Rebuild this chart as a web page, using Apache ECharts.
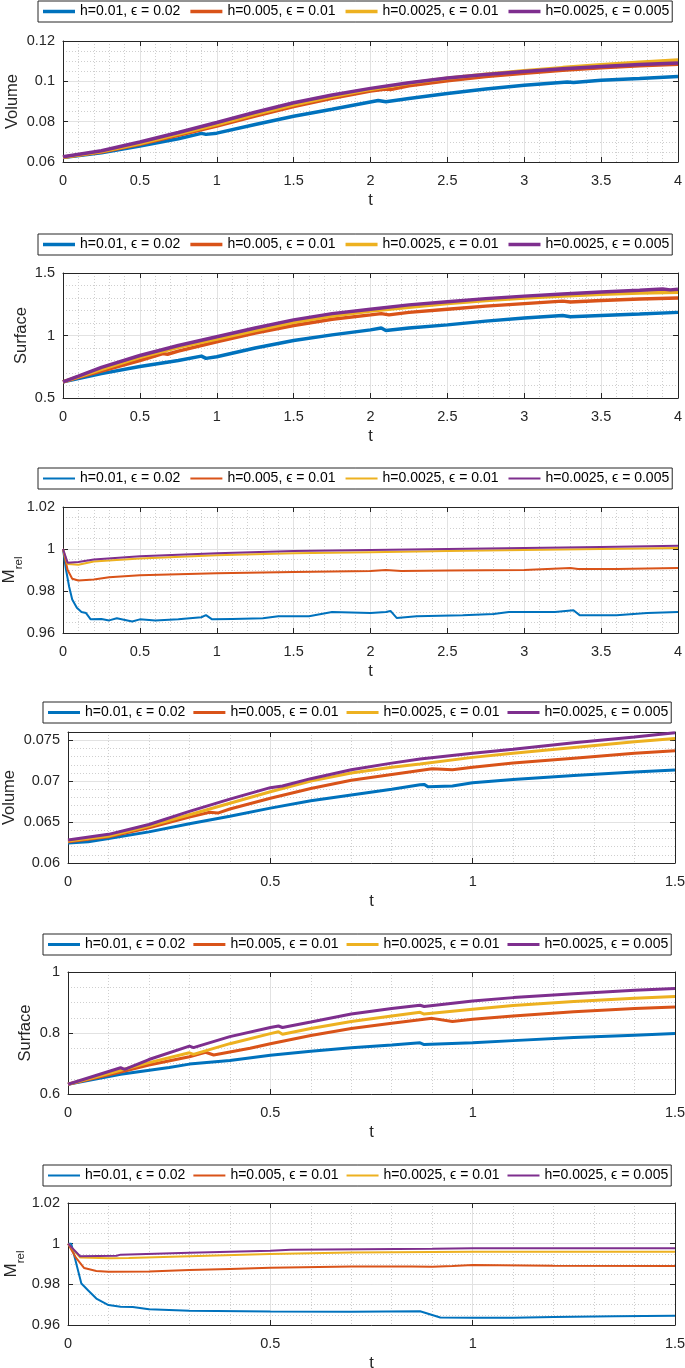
<!DOCTYPE html>
<html><head><meta charset="utf-8">
<script src="https://cdn.jsdelivr.net/npm/echarts@6/dist/echarts.min.js"></script>
<style>html,body{margin:0;padding:0;background:#fff}#c{width:685px;height:1368px}</style>
</head><body><div id="c"></div>
<script>
// ---------- data (t, value) ----------
const legendNames = ['h=0.01, \u03f5 = 0.02', 'h=0.005, \u03f5 = 0.01', 'h=0.0025, \u03f5 = 0.01', 'h=0.0025, \u03f5 = 0.005'];
const lineColors = ['#0072BD', '#D95319', '#EDB120', '#7E2F8E'];

// Panel 1: Volume, t in [0,4]
const volA_blue = [[0,.0622],[.25,.0646],[.5,.0679],[.75,.0715],[.9,.0742],[.93,.0737],[1,.0743],[1.25,.0786],[1.5,.0827],[1.75,.0862],[2.05,.0905],[2.1,.0899],[2.25,.0915],[2.5,.0940],[2.75,.0962],[3,.0980],[3.28,.0997],[3.32,.0994],[3.5,.1005],[3.75,.1014],[4,.1024]];
const volA_orange = [[0,.0624],[.25,.0650],[.5,.0688],[.75,.0733],[1,.0778],[1.25,.0828],[1.5,.0875],[1.75,.0916],[2,.0952],[2.1,.0962],[2.13,.0959],[2.25,.0978],[2.5,.1003],[2.75,.1024],[3,.1040],[3.25,.1055],[3.5,.1067],[3.75,.1077],[4,.1085]];
const volA_yellow = [[0,.0624],[.25,.0652],[.5,.0692],[.75,.0738],[1,.0786],[1.25,.0837],[1.5,.0884],[1.75,.0925],[2,.0960],[2.25,.0990],[2.5,.1015],[2.75,.1035],[3,.1052],[3.25,.1068],[3.5,.1082],[3.75,.1095],[4,.1106]];
const volA_purple = [[0,.0626],[.25,.0656],[.5,.0699],[.75,.0746],[1,.0796],[1.25,.0847],[1.5,.0894],[1.75,.0932],[2,.0965],[2.25,.0993],[2.5,.1016],[2.75,.1034],[3,.1049],[3.25,.1062],[3.5,.1074],[3.75,.1083],[4,.1091]];

// Panel 2: Surface, t in [0,4]
const surfA_blue = [[0,.629],[.1,.655],[.25,.695],[.5,.752],[.75,.800],[.9,.835],[.93,.817],[1,.830],[1.25,.900],[1.5,.960],[1.75,1.005],[2,1.045],[2.07,1.060],[2.1,1.040],[2.25,1.060],[2.5,1.085],[2.75,1.115],[3,1.140],[3.25,1.160],[3.3,1.150],[3.5,1.160],[3.75,1.172],[4,1.185]];
const surfA_orange = [[0,.629],[.1,.665],[.25,.715],[.5,.800],[.65,.855],[.68,.850],[.75,.875],[1,.950],[1.25,1.020],[1.5,1.080],[1.75,1.130],[2,1.165],[2.07,1.175],[2.12,1.165],[2.25,1.185],[2.5,1.210],[2.75,1.235],[3,1.255],[3.25,1.275],[3.3,1.268],[3.5,1.280],[3.75,1.292],[4,1.300]];
const surfA_yellow = [[0,.629],[.1,.670],[.25,.730],[.5,.825],[.75,.905],[1,.972],[1.25,1.040],[1.5,1.105],[1.75,1.155],[2,1.195],[2.25,1.225],[2.5,1.255],[2.75,1.280],[3,1.300],[3.25,1.315],[3.5,1.330],[3.75,1.340],[4,1.345]];
const surfA_purple = [[0,.629],[.1,.675],[.25,.745],[.5,.840],[.75,.920],[1,.990],[1.25,1.060],[1.5,1.125],[1.75,1.175],[2,1.210],[2.25,1.245],[2.5,1.270],[2.75,1.295],[3,1.315],[3.25,1.332],[3.5,1.348],[3.75,1.362],[3.9,1.372],[3.95,1.365],[4,1.370]];

// Panel 3: M_rel, t in [0,4]
const massA_blue = [[0,1.0],[.02,.990],[.04,.982],[.06,.976],[.09,.972],[.12,.970],[.15,.9695],[.18,.9665],[.25,.9667],[.3,.966],[.35,.967],[.45,.9655],[.5,.9665],[.6,.966],[.75,.9665],[.9,.9675],[.93,.9685],[.97,.9665],[1.1,.9667],[1.3,.967],[1.4,.968],[1.6,.968],[1.75,.970],[2,.9695],[2.1,.970],[2.13,.9705],[2.17,.9672],[2.3,.968],[2.6,.9685],[2.8,.969],[2.9,.970],[3.2,.970],[3.32,.9708],[3.36,.9685],[3.6,.9685],[3.8,.9695],[4,.970]];
const massA_orange = [[0,1.0],[.03,.990],[.06,.9858],[.1,.985],[.2,.9855],[.3,.9865],[.5,.9875],[.75,.988],[1,.9885],[1.5,.989],[2,.9895],[2.1,.990],[2.2,.9895],[2.5,.9898],[3,.990],[3.3,.991],[3.35,.9905],[3.6,.9905],[4,.991]];
const massA_yellow = [[0,1.0],[.03,.9928],[.1,.9925],[.2,.994],[.5,.9955],[1,.997],[1.5,.998],[2,.9985],[2.5,.999],[3,.9995],[3.5,1.0],[4,1.0005]];
const massA_purple = [[0,1.0],[.03,.9935],[.1,.9938],[.2,.995],[.5,.9966],[1,.998],[1.5,.999],[2,.9995],[2.5,1.0],[3,1.0005],[3.5,1.001],[4,1.0015]];

// Panel 4: Volume, t in [0,1.5]
const volB_blue = [[0,.06245],[.05,.0626],[.1,.0630],[.2,.0638],[.3,.0648],[.4,.0657],[.5,.0667],[.6,.0676],[.7,.0683],[.8,.0690],[.87,.06955],[.88,.0696],[.89,.0693],[.95,.0694],[1,.0698],[1.1,.0702],[1.25,.0707],[1.4,.0711],[1.5,.07135]];
const volB_orange = [[0,.0626],[.1,.0632],[.2,.0643],[.3,.0656],[.35,.0662],[.37,.0661],[.4,.0666],[.5,.0679],[.6,.0691],[.7,.0701],[.8,.0708],[.9,.0715],[.95,.0714],[1,.0717],[1.1,.0722],[1.25,.0728],[1.4,.0734],[1.5,.0737]];
const volB_yellow = [[0,.0627],[.1,.0633],[.2,.0645],[.3,.0659],[.4,.0673],[.5,.0687],[.6,.0700],[.7,.0710],[.8,.0717],[.87,.0721],[1,.0729],[1.1,.0734],[1.25,.0741],[1.4,.0748],[1.5,.0752]];
const volB_purple = [[0,.0628],[.1,.0635],[.15,.0641],[.2,.0647],[.3,.0663],[.4,.0678],[.5,.0692],[.53,.0694],[.6,.0703],[.7,.0714],[.8,.0722],[.87,.0727],[1,.0734],[1.1,.0739],[1.25,.0747],[1.4,.0754],[1.5,.0759]];

// Panel 5: Surface, t in [0,1.5]
const surfB_blue = [[0,.632],[.13,.665],[.25,.687],[.3,.698],[.4,.710],[.5,.727],[.6,.740],[.7,.752],[.8,.761],[.87,.768],[.88,.762],[1,.768],[1.1,.775],[1.25,.785],[1.4,.793],[1.5,.798]];
const surfB_orange = [[0,.632],[.13,.672],[.2,.695],[.3,.722],[.34,.737],[.36,.728],[.45,.750],[.5,.765],[.6,.792],[.7,.815],[.8,.832],[.9,.848],[.95,.838],[1,.845],[1.1,.856],[1.25,.870],[1.4,.880],[1.5,.885]];
const surfB_yellow = [[0,.632],[.13,.678],[.2,.703],[.3,.735],[.31,.730],[.4,.765],[.5,.798],[.52,.804],[.53,.796],[.6,.815],[.7,.838],[.8,.856],[.87,.868],[.88,.862],[1,.878],[1.1,.890],[1.25,.903],[1.4,.914],[1.5,.920]];
const surfB_purple = [[0,.632],[.13,.686],[.14,.681],[.2,.713],[.3,.757],[.31,.752],[.4,.788],[.5,.818],[.52,.823],[.53,.818],[.6,.836],[.7,.862],[.8,.880],[.87,.891],[.88,.887],[1,.905],[1.1,.916],[1.25,.929],[1.4,.940],[1.5,.946]];

// Panel 6: M_rel, t in [0,1.5]
const massB_blue = [[0,1.0],[.008,1.0],[.033,.9804],[.05,.977],[.07,.973],[.1,.9698],[.13,.969],[.16,.9688],[.2,.9678],[.3,.967],[.5,.9667],[.7,.9665],[.87,.9668],[.92,.9637],[1,.9636],[1.1,.9636],[1.2,.9639],[1.35,.9643],[1.5,.9645]];
const massB_orange = [[0,1.0],[.02,.993],[.04,.988],[.07,.9866],[.1,.9862],[.2,.9863],[.3,.987],[.4,.9876],[.5,.9881],[.7,.9888],[.85,.9888],[.9,.9886],[.95,.989],[1,.9895],[1.2,.9892],[1.5,.989]];
const massB_yellow = [[0,1.0],[.03,.9932],[.1,.9928],[.15,.9929],[.3,.9938],[.5,.9949],[.7,.9957],[1,.996],[1.5,.996]];
const massB_purple = [[0,1.0],[.03,.9938],[.12,.9941],[.13,.9946],[.3,.9955],[.5,.9965],[.55,.997],[.9,.9975],[1,.9977],[1.5,.9978]];

// ---------- layout ----------
const FONT = '"Liberation Sans", Arial, Helvetica, sans-serif';
const panels = [
  {series:[volA_blue,volA_orange,volA_yellow,volA_purple], left:63, top:41, width:615, height:121, lgTop:1, lgLeft:38, lgGap:10,
   xMax:4, xInt:0.5, xMinor:0.1, yMin:0.06, yMax:0.12, yInt:0.02, yMinor:0.005, name:'Volume', nameGap:42, lw:3.5},
  {series:[surfA_blue,surfA_orange,surfA_yellow,surfA_purple], left:63, top:273, width:615, height:125, lgTop:234, lgLeft:38, lgGap:10,
   xMax:4, xInt:0.5, xMinor:0.1, yMin:0.5, yMax:1.5, yInt:0.5, yMinor:0.1, name:'Surface', nameGap:33, lw:3.5},
  {series:[massA_blue,massA_orange,massA_yellow,massA_purple], left:63, top:507, width:615, height:126, lgTop:468, lgLeft:38, lgGap:10,
   xMax:4, xInt:0.5, xMinor:0.1, yMin:0.96, yMax:1.02, yInt:0.02, yMinor:0.005, name:'M', nameGap:38, lw:2, mrel:true},
  {series:[volB_blue,volB_orange,volB_yellow,volB_purple], left:68, top:732, width:607, height:131, lgTop:702, lgLeft:43, lgGap:8,
   xMax:1.5, xInt:0.5, xMinor:0.1, yMin:0.06, yMax:0.076, yInt:0.005, yMinor:0.001, name:'Volume', nameGap:50, lw:3, hideMax:true},
  {series:[surfB_blue,surfB_orange,surfB_yellow,surfB_purple], left:68, top:972, width:607, height:122, lgTop:934, lgLeft:43, lgGap:8,
   xMax:1.5, xInt:0.5, xMinor:0.1, yMin:0.6, yMax:1.0, yInt:0.2, yMinor:0.05, name:'Surface', nameGap:34, lw:3},
  {series:[massB_blue,massB_orange,massB_yellow,massB_purple], left:68, top:1203, width:607, height:122, lgTop:1165, lgLeft:43, lgGap:8,
   xMax:1.5, xInt:0.5, xMinor:0.1, yMin:0.96, yMax:1.02, yInt:0.02, yMinor:0.005, name:'M', nameGap:41, lw:2, mrel:true}
];

const AX = '#262626';
const grid = [], xAxis = [], yAxis = [], series = [], legend = [];
panels.forEach((p, i) => {
  grid.push({left:p.left, top:p.top, width:p.width, height:p.height, containLabel:false, outerBoundsMode:'none', show:false});
  // minor grid (x)
  xAxis.push({gridIndex:i, type:'value', min:0, max:p.xMax, interval:p.xMinor, position:'bottom',
    axisLine:{show:false}, axisTick:{show:false}, axisLabel:{show:false},
    splitLine:{show:true, lineStyle:{color:'#cfcfcf', type:[1,2], width:1}}});
  // major x
  xAxis.push({gridIndex:i, type:'value', min:0, max:p.xMax, interval:p.xInt, position:'bottom',
    name:'t', nameLocation:'middle', nameGap:30, nameMoveOverlap:false,
    nameTextStyle:{fontSize:16.5, color:AX, fontFamily:FONT},
    axisLine:{show:true, onZero:false, lineStyle:{color:AX, width:1}},
    axisTick:{show:true, inside:true, length:5, lineStyle:{color:AX}},
    axisLabel:{show:true, margin:11, fontSize:14.5, color:AX, fontFamily:FONT},
    splitLine:{show:true, lineStyle:{color:'#e2e2e2', width:1}}});
  // top box
  xAxis.push({gridIndex:i, type:'value', min:0, max:p.xMax, interval:p.xInt, position:'top',
    axisLine:{show:true, onZero:false, lineStyle:{color:AX, width:1}},
    axisTick:{show:true, inside:true, length:5, lineStyle:{color:AX}},
    axisLabel:{show:false}, splitLine:{show:false}});
  // minor y
  yAxis.push({gridIndex:i, type:'value', min:p.yMin, max:p.yMax, interval:p.yMinor, position:'left',
    axisLine:{show:false}, axisTick:{show:false}, axisLabel:{show:false},
    splitLine:{show:true, lineStyle:{color:'#cfcfcf', type:[1,2], width:1}}});
  // major y
  const nameCfg = p.mrel
    ? {name:'{m|M}{s|rel}', nameTextStyle:{color:AX, fontFamily:FONT, rich:{
        m:{fontSize:17, fontFamily:FONT, color:AX, lineHeight:24, verticalAlign:'top'},
        s:{fontSize:11.5, fontFamily:FONT, color:AX, lineHeight:24, verticalAlign:'bottom'}}}}
    : {name:p.name, nameTextStyle:{fontSize:16.5, color:AX, fontFamily:FONT}};
  yAxis.push(Object.assign({gridIndex:i, type:'value', min:p.yMin, max:p.yMax, interval:p.yInt, position:'left',
    nameLocation:'middle', nameGap:p.nameGap, nameMoveOverlap:false,
    axisLine:{show:true, onZero:false, lineStyle:{color:AX, width:1}},
    axisTick:{show:true, inside:true, length:5, lineStyle:{color:AX}},
    axisLabel:{show:true, margin:8, fontSize:14.5, color:AX, fontFamily:FONT, showMaxLabel: p.hideMax ? false : true},
    splitLine:{show:true, lineStyle:{color:'#e2e2e2', width:1}}}, nameCfg));
  // right box
  yAxis.push({gridIndex:i, type:'value', min:p.yMin, max:p.yMax, interval:p.yInt, position:'right',
    axisLine:{show:true, onZero:false, lineStyle:{color:AX, width:1}},
    axisTick:{show:true, inside:true, length:5, lineStyle:{color:AX}},
    axisLabel:{show:false}, splitLine:{show:false}});

  p.series.forEach((d, k) => {
    series.push({type:'line', name:legendNames[k], xAxisIndex:3*i+1, yAxisIndex:3*i+1, data:d,
      symbol:'none', showSymbol:false, animation:false, z:3+k,
      lineStyle:{width:p.lw, color:lineColors[k]}, itemStyle:{color:lineColors[k]}});
  });

  legend.push({top:p.lgTop, left:p.lgLeft, orient:'horizontal', data:legendNames, selectedMode:false,
    icon:'rect', itemWidth:32, itemHeight:p.lw, itemGap:p.lgGap, padding:[3,3,3,5],
    borderColor:AX, borderWidth:1, backgroundColor:'#fff',
    textStyle:{fontSize:14, color:'#000', fontFamily:FONT, lineHeight:15}});
});

const chart = echarts.init(document.getElementById('c'), null, {renderer:'canvas'});
chart.setOption({animation:false, backgroundColor:'#fff', grid, xAxis, yAxis, series, legend});
</script>
</body></html>
